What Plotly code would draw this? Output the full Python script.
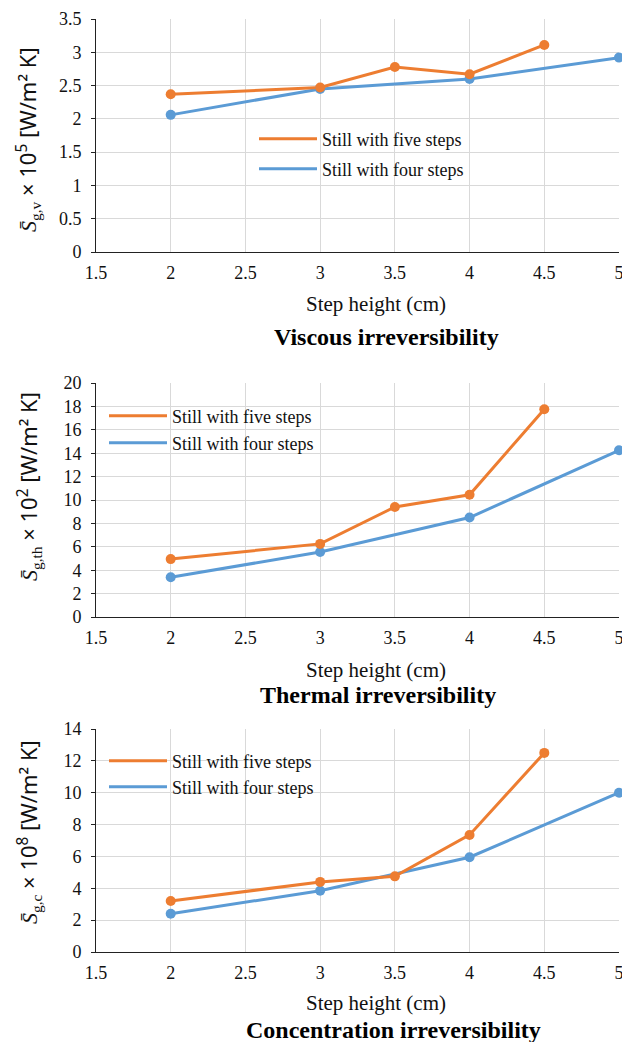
import plotly.graph_objects as go

# ---------------- data ----------------
x_five = [2, 3, 3.5, 4, 4.5]
x_four = [2, 3, 4, 5]

visc_five = [2.37, 2.47, 2.78, 2.67, 3.11]
visc_four = [2.06, 2.45, 2.60, 2.92]

therm_five = [4.95, 6.25, 9.40, 10.45, 17.75]
therm_four = [3.40, 5.55, 8.50, 14.25]

conc_five = [3.20, 4.40, 4.75, 7.35, 12.50]
conc_four = [2.40, 3.85, 5.95, 10.00]

x_ticks = [1.5, 2, 2.5, 3, 3.5, 4, 4.5, 5]
x_ticktext = ["1.5", "2", "2.5", "3", "3.5", "4", "4.5", "5"]
y1_ticks = [0, 0.5, 1, 1.5, 2, 2.5, 3, 3.5]
y1_ticktext = ["0", "0.5", "1", "1.5", "2", "2.5", "3", "3.5"]
y2_ticks = [0, 2, 4, 6, 8, 10, 12, 14, 16, 18, 20]
y3_ticks = [0, 2, 4, 6, 8, 10, 12, 14]

name_five = "Still with five steps"
name_four = "Still with four steps"
titles = ["Viscous irreversibility", "Thermal irreversibility", "Concentration irreversibility"]
ysubs = ["g,v", "g,th", "g,c"]
yexps = ["5", "2", "8"]
xtitle = "Step height (cm)"

# ---------------- style ----------------
W, H = 622, 1042
ORANGE = "#ED7D31"
BLUE = "#5B9BD5"
GRID = "#D9D9D9"
SERIF = "Liberation Serif, Times New Roman, serif"
SANS = "Noto Sans, DejaVu Sans, sans-serif"

def px_x(p):
    return p / W

def px_y(p):
    return 1 - p / H

def ytitle(sub, exp):
    return ("<span style='font-family:Liberation Serif'><i>S&#772;</i></span>"
            "<sub><span style='font-family:Liberation Serif'>" + sub + "</span></sub>"
            " × 10<sup>" + exp + "</sup> [W/m² K]")

x_dom = [px_x(96), px_x(619)]
panels = [
    dict(top=19, bottom=252, rng=[0, 3.5], ticks=y1_ticks, ticktext=y1_ticktext,
         five=visc_five, four=visc_four,
         leg_five=(254, 139), leg_four=(254, 169),
         ytitle_y=140, xtitle_y=304, title_y=337),
    dict(top=383, bottom=617, rng=[0, 20], ticks=y2_ticks, ticktext=[str(v) for v in y2_ticks],
         five=therm_five, four=therm_four,
         leg_five=(104, 416), leg_four=(104, 443),
         ytitle_y=487, xtitle_y=670, title_y=695),
    dict(top=729, bottom=952, rng=[0, 14], ticks=y3_ticks, ticktext=[str(v) for v in y3_ticks],
         five=conc_five, four=conc_four,
         leg_five=(104, 761), leg_four=(104, 787),
         ytitle_y=832, xtitle_y=1003, title_y=1030),
]

fig = go.Figure()
layout = dict(
    width=W, height=H,
    margin=dict(l=0, r=0, t=0, b=0, autoexpand=False),
    paper_bgcolor="white", plot_bgcolor="white",
    showlegend=True,
    annotations=[],
)

leg_idx = 0
for i, p in enumerate(panels):
    sfx = "" if i == 0 else str(i + 1)
    xa, ya = "x" + sfx, "y" + sfx
    for series, xs, ys, col, pos in [
        (name_four, x_four, p["four"], BLUE, p["leg_four"]),
        (name_five, x_five, p["five"], ORANGE, p["leg_five"]),
    ]:
        leg_idx += 1
        lname = "legend" if leg_idx == 1 else "legend" + str(leg_idx)
        fig.add_trace(go.Scatter(
            x=xs, y=ys, mode="lines", name=series,
            line=dict(color=col, width=3),
            xaxis=xa, yaxis=ya, legend=lname, showlegend=True,
            cliponaxis=False, hoverinfo="skip",
        ))
        layout[lname] = dict(
            x=px_x(pos[0]), y=px_y(pos[1]), xanchor="left", yanchor="middle",
            bgcolor="rgba(0,0,0,0)", borderwidth=0,
            font=dict(family=SERIF, size=18, color="#111"),
            itemwidth=58,
        )
    for series, xs, ys, col in [
        (name_four, x_four, p["four"], BLUE),
        (name_five, x_five, p["five"], ORANGE),
    ]:
        fig.add_trace(go.Scatter(
            x=xs, y=ys, mode="markers", name=series,
            marker=dict(color=col, size=10),
            xaxis=xa, yaxis=ya, showlegend=False, cliponaxis=False,
        ))

    ydom = [px_y(p["bottom"]), px_y(p["top"])]
    layout["xaxis" + sfx] = dict(
        domain=x_dom, anchor=ya, range=[1.5, 5],
        tickvals=x_ticks, ticktext=x_ticktext,
        showgrid=True, gridcolor=GRID, gridwidth=1,
        showline=True, linecolor="#222", linewidth=1,
        ticks="", zeroline=False, automargin=False,
        ticklabeloverflow="allow",
        tickfont=dict(family=SERIF, size=18, color="#111"),
        ticklabelstandoff=4,
    )
    layout["yaxis" + sfx] = dict(
        domain=ydom, anchor=xa, range=p["rng"],
        tickvals=p["ticks"], ticktext=p["ticktext"],
        showgrid=True, gridcolor=GRID, gridwidth=1,
        showline=True, linecolor="#222", linewidth=1,
        ticks="outside", ticklen=4, tickcolor="#222",
        zeroline=False, automargin=False,
        ticklabeloverflow="allow",
        tickfont=dict(family=SERIF, size=18, color="#111"),
        ticklabelstandoff=6,
    )
    layout["annotations"] += [
        dict(text=ytitle(ysubs[i], yexps[i]), x=px_x(28), y=px_y(p["ytitle_y"]),
             xref="paper", yref="paper",
             textangle=-90, showarrow=False, xanchor="center", yanchor="middle",
             font=dict(family=SANS, size=22, color="#111")),
        dict(text=xtitle, x=px_x(376), y=px_y(p["xtitle_y"]), xref="paper", yref="paper",
             showarrow=False, xanchor="center", yanchor="middle",
             font=dict(family=SERIF, size=21, color="#111")),
        dict(text="<b>" + titles[i] + "</b>", x=px_x(386 if i == 0 else (378 if i == 1 else 393)),
             y=px_y(p["title_y"]), xref="paper", yref="paper",
             showarrow=False, xanchor="center", yanchor="middle",
             font=dict(family=SERIF, size=24, color="#000")),
    ]

fig.update_layout(**layout)
fig.write_html(
    "out.html",
    config={"displayModeBar": False},
    post_script="document.body.style.margin='0';document.body.style.overflow='hidden';"
                "document.documentElement.style.overflow='hidden';",
)
